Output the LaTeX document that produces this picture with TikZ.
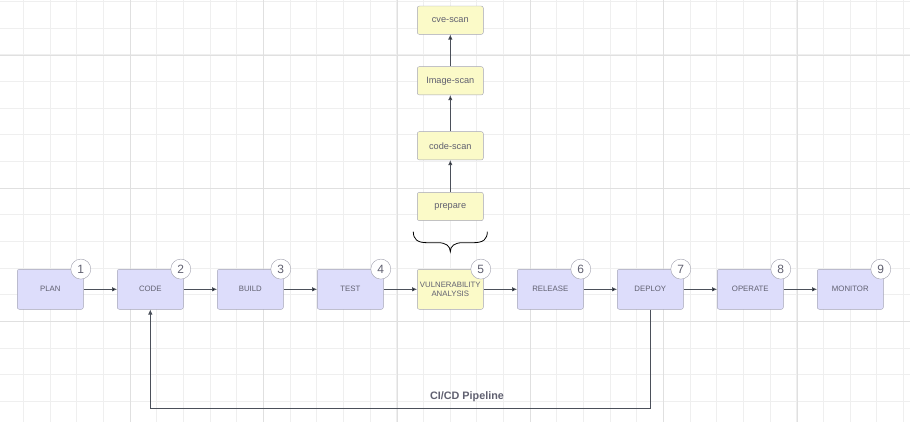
\documentclass[tikz,border=0pt]{standalone}
\usepackage{fontspec}
\setmainfont{Liberation Sans}
\usetikzlibrary{arrows.meta}
\definecolor{gridminor}{HTML}{EFEFEF}
\definecolor{gridmajor}{HTML}{E0E0E0}
\definecolor{stagefill}{HTML}{DDDDFB}
\definecolor{scanfill}{HTML}{FBFAC8}
\definecolor{boxline}{HTML}{A3A3B5}
\definecolor{linkline}{HTML}{4B505A}
\definecolor{labeltext}{HTML}{606070}
\begin{document}
\begin{tikzpicture}[x=1pt, y=-1pt,
	stage/.style={draw=boxline, fill=stagefill, rounded corners=2pt, minimum width=66pt, minimum height=40pt, inner sep=0pt, align=center, font=\fontsize{7.8}{9}\selectfont, text=labeltext},
	scan/.style={stage, fill=scanfill, minimum height=28.3pt, font=\fontsize{9.2}{10}\selectfont},
	badge/.style={circle, draw=boxline!80!gray, fill=white, minimum size=20pt, inner sep=0pt, font=\fontsize{12}{12}\selectfont, text=labeltext},
	flow/.style={draw=linkline, line width=0.8pt, -{Latex[length=5pt, width=4.5pt]}}]
	\useasboundingbox (0,0) rectangle (910,422);
	% grid
	\foreach \i in {0,...,34}
		\draw[gridminor, line width=0.8pt] ({-3.33+26.667*\i},0) -- ++(0,422);
	\foreach \j in {0,...,15}
		\draw[gridminor, line width=0.8pt] (0,{1.33+26.667*\j}) -- ++(910,0);
	\foreach \i in {0,...,5}
		\draw[gridmajor, line width=0.8pt] ({130.33+133.33*\i},0) -- ++(0,422);
	\foreach \j in {0,...,2}
		\draw[gridmajor, line width=0.8pt] (0,{55+133.33*\j}) -- ++(910,0);
	% pipeline stages
	\node[stage] at (50.3,289.3) (plan) {PLAN};
	\node[stage] at (150.3,289.3) (code) {CODE};
	\node[stage] at (250.3,289.3) (build) {BUILD};
	\node[stage] at (350.3,289.3) (test) {TEST};
	\node[stage, fill=scanfill] at (450.3,289.3) (vuln) {VULNERABILITY\\ANALYSIS};
	\node[stage] at (550.3,289.3) (release) {RELEASE};
	\node[stage] at (650.3,289.3) (deploy) {DEPLOY};
	\node[stage] at (750.3,289.3) (operate) {OPERATE};
	\node[stage] at (850.3,289.3) (monitor) {MONITOR};
	% step numbers
	\node[badge] at ([xshift=-2.7pt]plan.north east) (b1) {1};
	\node[badge] at ([xshift=-2.7pt]code.north east) (b2) {2};
	\node[badge] at ([xshift=-2.7pt]build.north east) (b3) {3};
	\node[badge] at ([xshift=-2.7pt]test.north east) (b4) {4};
	\node[badge] at ([xshift=-2.7pt]vuln.north east) (b5) {5};
	\node[badge] at ([xshift=-2.7pt]release.north east) (b6) {6};
	\node[badge] at ([xshift=-2.7pt]deploy.north east) (b7) {7};
	\node[badge] at ([xshift=-2.7pt]operate.north east) (b8) {8};
	\node[badge] at ([xshift=-2.7pt]monitor.north east) (b9) {9};
	% scan steps
	\node[scan] at (450.3,206.5) (prepare) {prepare};
	\node[scan] at (450.3,145.8) (codescan) {code-scan};
	\node[scan] at (450.3,80.8) (imagescan) {Image-scan};
	\node[scan] at (450.3,20.2) (cvescan) {cve-scan};
	\draw[flow]
	(plan) edge (code) (code) edge (build) (build) edge (test) (test) edge (vuln)
	(vuln) edge (release) (release) edge (deploy) (deploy) edge (operate) (operate) edge (monitor);
	\draw[flow]
	(prepare) edge (codescan) (codescan) edge (imagescan) (imagescan) edge (cvescan);
	% feedback loop
	\coordinate (back) at (650.3,408.3);
	\draw[flow] (deploy.south) -- (back) -| (code.south);
	\node[font=\bfseries\fontsize{10.8}{12}\selectfont, text=labeltext] at (467,396.5) (pipeline) {CI/CD Pipeline};
	% brace
	\draw[black, line width=0.8pt] (413.3,231.7) .. controls (413.3,239) and (417,242.7) .. (427,242.7) -- (438,242.7)
	.. controls (446,242.7) and (450.3,246) .. (450.3,251.7)
	.. controls (450.3,246) and (454.6,242.7) .. (462.6,242.7) -- (473.6,242.7)
	.. controls (483.6,242.7) and (487.3,239) .. (487.3,231.7);
\end{tikzpicture}
\end{document}
